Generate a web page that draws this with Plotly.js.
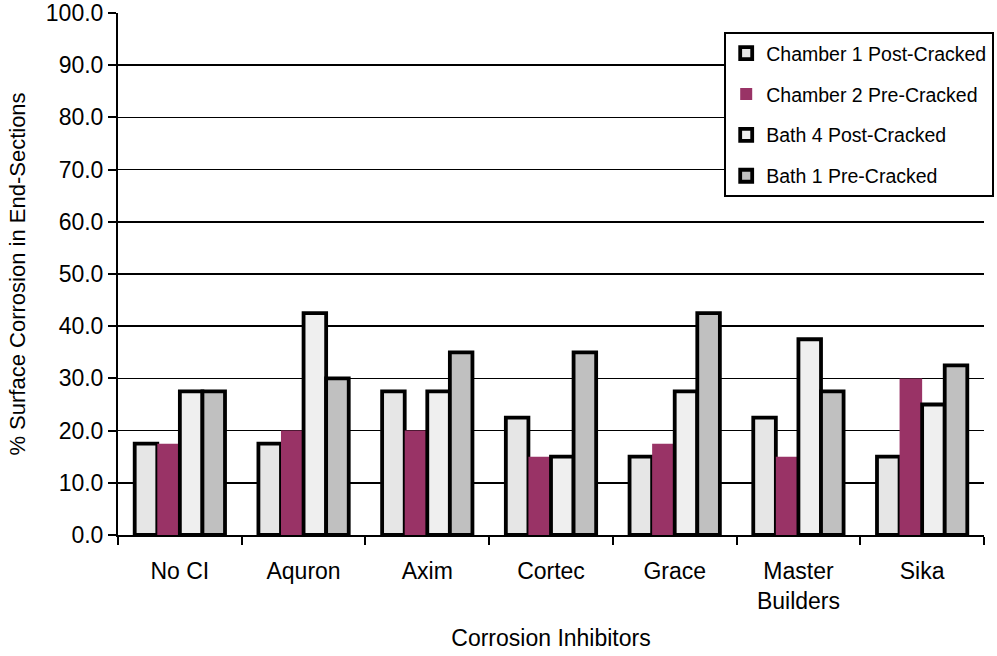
<!DOCTYPE html>
<html>
<head>
<meta charset="utf-8">
<script src="https://cdn.plot.ly/plotly-3.0.1.min.js"></script>
<style>html,body{margin:0;padding:0;background:#fff;}#chart{width:997px;height:656px;}</style>
</head>
<body>
<div id="chart"></div>
<script>
const categories = ["No CI", "Aquron", "Axim", "Cortec", "Grace", "Master<br>Builders", "Sika"];
const seriesNames = ["Chamber 1 Post-Cracked", "Chamber 2 Pre-Cracked", "Bath 4 Post-Cracked", "Bath 1 Pre-Cracked"];
const chamber1Post = [17.5, 17.5, 27.5, 22.5, 15.0, 22.5, 15.0];
const chamber2Pre  = [17.5, 20.0, 20.0, 15.0, 17.5, 15.0, 30.0];
const bath4Post    = [27.5, 42.5, 27.5, 15.0, 27.5, 37.5, 25.0];
const bath1Pre     = [27.5, 30.0, 35.0, 35.0, 42.5, 27.5, 32.5];
const yTicks = [0, 10, 20, 30, 40, 50, 60, 70, 80, 90, 100];

const fills = ["#e6e6e6", "#993366", "#efefef", "#c0c0c0"];
const lineWidths = [3.8, 0, 3.8, 3.8];
const allSeries = [chamber1Post, chamber2Pre, bath4Post, bath1Pre];

const traces = allSeries.map((vals, i) => ({
  type: "bar",
  name: seriesNames[i],
  x: categories,
  y: vals,
  legendgroup: "g" + i,
  marker: {color: fills[i], line: {color: "#000", width: lineWidths[i]}},
  hoverinfo: "skip"
}));

const FONT = "'Liberation Sans', Arial, sans-serif";

const layout = {
  width: 997, height: 656,
  margin: {l: 118, r: 13, t: 13, b: 121, autoexpand: false},
  paper_bgcolor: "#fff", plot_bgcolor: "#fff",
  font: {family: FONT, color: "#000", size: 23},
  barmode: "group",
  bargap: 0.27,
  bargroupgap: 0,
  showlegend: true,
  legend: {
    x: 0.7, y: 0.9636, xanchor: "left", yanchor: "top",
    bgcolor: "#fff", bordercolor: "#000", borderwidth: 2,
    font: {size: 19.5, family: FONT},
    traceorder: "grouped", tracegroupgap: 12.5
  },
  xaxis: {
    type: "category",
    showline: true, linecolor: "#000", linewidth: 2,
    ticks: "outside", tickson: "boundaries", ticklen: 8, tickwidth: 2, tickcolor: "#000",
    showgrid: false,
    ticklabelstandoff: 14,
    tickfont: {size: 23},
    title: {text: "Corrosion Inhibitors", font: {size: 23}, standoff: 17}
  },
  yaxis: {
    range: [0, 100], tickvals: yTicks, tickformat: ".1f",
    showline: true, linecolor: "#000", linewidth: 2,
    ticks: "outside", ticklen: 8, tickwidth: 2, tickcolor: "#000",
    showgrid: true, gridcolor: "#000", gridwidth: 1.5,
    zeroline: false,
    tickfont: {size: 23},
    title: {text: "% Surface Corrosion in End-Sections", font: {size: 22}, standoff: 14}
  }
};

Plotly.newPlot("chart", traces, layout, {displayModeBar: false, staticPlot: true});
</script>
</body>
</html>
